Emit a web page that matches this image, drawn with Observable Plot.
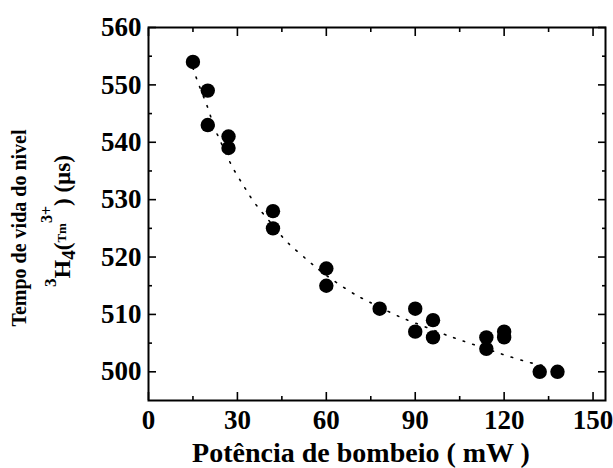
<!DOCTYPE html>
<html>
<head>
<meta charset="utf-8">
<script src="https://cdn.jsdelivr.net/npm/d3@7"></script>
<script src="https://cdn.jsdelivr.net/npm/@observablehq/plot@0.6"></script>
<style>
  html, body { margin: 0; padding: 0; background: #fff; }
  #chart svg { display: block; }
</style>
</head>
<body>
<div id="chart"></div>
<script>
// Measured points
const power = [15, 20, 20, 27, 27, 42, 42, 60, 60, 78, 90, 90, 96, 96, 114, 114, 120, 120, 132, 138];
const lifetime = [554, 549, 543, 541, 539, 528, 525, 518, 515, 511, 511, 507, 509, 506, 506, 504, 507, 506, 500, 500];

// Dotted fit curve
const fitX = [15, 17, 20, 22, 24, 28, 32, 36, 42, 47, 54, 60, 68, 74, 83, 90, 99, 106, 114, 121, 128, 134];
const fitY = [553, 550, 546, 542.8, 540.5, 536, 532.5, 529.3, 525.5, 522.5, 519.3, 516.8, 514, 512.3, 510, 508.5, 506.7, 505.4, 504, 502.8, 501.7, 501];

const xTicks = [0, 30, 60, 90, 120, 150];
const xMinor = [15, 45, 75, 105, 135];
const yTicks = [500, 510, 520, 530, 540, 550, 560];
const yMinor = [505, 515, 525, 535, 545, 555];

const xTitle = "Potência de bombeio ( mW )";
const yTitle1 = "Tempo de vida do nivel";

const points = power.map((p, i) => ({x: p, y: lifetime[i]}));
const fit = fitX.map((p, i) => ({x: p, y: fitY[i]}));

const font = "'Liberation Serif', 'Times New Roman', serif";

const plot = Plot.plot({
  width: 613,
  height: 468,
  marginLeft: 148,
  marginRight: 8,
  marginTop: 27,
  marginBottom: 68,
  style: {fontFamily: font, fontWeight: "bold", color: "#000", background: "#fff"},
  x: {domain: [0, 154.2]},
  y: {domain: [495, 560]},
  marks: [
    Plot.line(fit, {x: "x", y: "y", curve: "natural", stroke: "#000", strokeWidth: 1.6, strokeDasharray: "1.6,8.5", strokeLinecap: "round"}),
    Plot.dot(points, {x: "x", y: "y", r: 7.2, fill: "#000", stroke: "none"}),
    // major ticks (inward) on all sides
    Plot.axisX({ticks: xTicks, anchor: "bottom", tickSize: -8, text: null, label: null, strokeWidth: 1.6}),
    Plot.axisX({ticks: xTicks, anchor: "top", tickSize: -8, text: null, label: null, strokeWidth: 1.6}),
    Plot.axisX({ticks: xMinor, anchor: "bottom", tickSize: -4, text: null, label: null, strokeWidth: 1.6}),
    Plot.axisX({ticks: xMinor, anchor: "top", tickSize: -4, text: null, label: null, strokeWidth: 1.6}),
    Plot.axisY({ticks: yTicks, anchor: "left", tickSize: -8, text: null, label: null, strokeWidth: 1.6}),
    Plot.axisY({ticks: yTicks, anchor: "right", tickSize: -8, text: null, label: null, strokeWidth: 1.6}),
    Plot.axisY({ticks: yMinor, anchor: "left", tickSize: -4, text: null, label: null, strokeWidth: 1.6}),
    Plot.axisY({ticks: yMinor, anchor: "right", tickSize: -4, text: null, label: null, strokeWidth: 1.6}),
    // tick labels
    Plot.axisX({ticks: xTicks, anchor: "bottom", tickSize: 0, tickPadding: 9, fontSize: 27, fontWeight: "bold", label: null, tickFormat: d => String(d)}),
    Plot.axisY({ticks: yTicks, anchor: "left", tickSize: 0, tickPadding: 7, fontSize: 27, fontWeight: "bold", label: null, tickFormat: d => String(d)}),
    Plot.frame({stroke: "#000", strokeWidth: 2})
  ]
});

document.getElementById("chart").appendChild(plot);

// Axis titles
const svg = d3.select(plot);
svg.append("text")
  .attr("x", 361)
  .attr("y", 462)
  .attr("text-anchor", "middle")
  .attr("font-family", font)
  .attr("font-weight", "bold")
  .attr("font-size", 28)
  .attr("fill", "#000")
  .text(xTitle);

const g = svg.append("g")
  .attr("font-family", font)
  .attr("font-weight", "bold")
  .attr("fill", "#000");

g.append("text")
  .attr("transform", "translate(26,228) rotate(-90)")
  .attr("text-anchor", "middle")
  .attr("font-size", 20)
  .text(yTitle1);

const t2 = g.append("text")
  .attr("transform", "translate(70,221) rotate(-90)")
  .attr("text-anchor", "middle")
  .attr("font-size", 23);
t2.append("tspan").attr("font-size", 17).attr("dy", -14).text("3");
t2.append("tspan").attr("font-size", 24).attr("dy", 14).text("H");
t2.append("tspan").attr("font-size", 19).attr("dy", 5).text("4");
t2.append("tspan").attr("font-size", 23).attr("dy", -5).text("(");
t2.append("tspan").attr("font-size", 13).attr("dy", -4).text("Tm");
t2.append("tspan").attr("font-size", 16).attr("dy", -14).text("3+");
t2.append("tspan").attr("font-size", 23).attr("dy", 18).text(") (µs)");
</script>
</body>
</html>
